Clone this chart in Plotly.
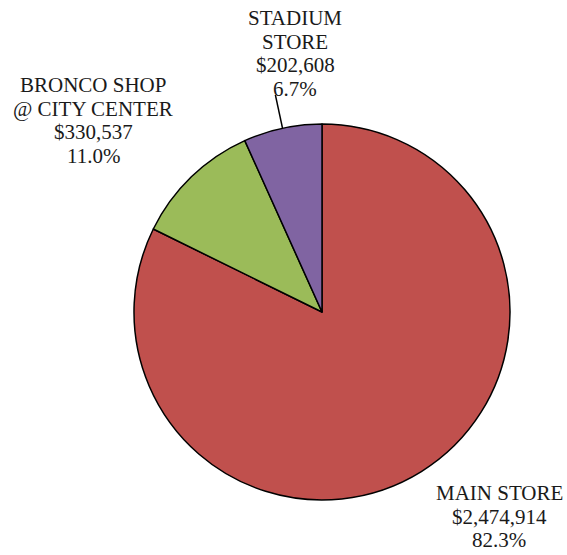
import math
import plotly.graph_objects as go

# Store sales breakdown
stores = ["MAIN STORE", "BRONCO SHOP<br>@ CITY CENTER", "STADIUM<br>STORE"]
sales = [2474914, 330537, 202608]
colors = ["#C0504D", "#9BBB59", "#8064A2"]

W, H = 567, 555
total = sum(sales)
shares = [v / total for v in sales]

# Pie placement (pixels)
cx, cy, r = 322, 312, 188
dom_x = [(cx - r) / W, (cx + r) / W]
dom_y = [1 - (cy + r) / H, 1 - (cy - r) / H]

fig = go.Figure(go.Pie(
    labels=stores,
    values=sales,
    sort=False,
    direction="clockwise",
    rotation=0,
    marker=dict(colors=colors, line=dict(color="black", width=1.5)),
    textinfo="none",
    hoverinfo="label+value+percent",
    domain=dict(x=dom_x, y=dom_y),
    showlegend=False,
))

# Label blocks: centre x and first-line baseline (pixels); one
# annotation per line keeps the line spacing tight
label_pos = [(499, 500), (93, 92), (295, 25)]
line_gap = 23.5
font = dict(family="Liberation Serif", size=21, color="#1a1a1a")
for name, val, share, (lx, base) in zip(stores, sales, shares, label_pos):
    lines = name.split("<br>") + [f"${val:,.0f}", f"{share * 100:.1f}%"]
    for i, txt in enumerate(lines):
        yc = base + i * line_gap - 7
        fig.add_annotation(
            x=lx / W, y=1 - yc / H, xref="paper", yref="paper",
            text=txt, showarrow=False, xanchor="center", yanchor="middle",
            align="center", font=font,
        )

# Leader line for the smallest slice, along its mid angle,
# drawn on hidden axes that map one unit to one pixel
start = shares[0] + shares[1]
mid = (start + shares[2] / 2) * 2 * math.pi  # clockwise from 12 o'clock
radii = [r, r + 34]
fig.add_trace(go.Scatter(
    x=[cx + rr * math.sin(mid) for rr in radii],
    y=[cy - rr * math.cos(mid) for rr in radii],
    mode="lines", line=dict(color="black", width=1.5),
    hoverinfo="skip", showlegend=False,
))

fig.update_layout(
    width=W, height=H,
    margin=dict(l=0, r=0, t=0, b=0),
    paper_bgcolor="white",
    plot_bgcolor="rgba(0,0,0,0)",
    xaxis=dict(range=[0, W], visible=False, domain=[0, 1], fixedrange=True),
    yaxis=dict(range=[H, 0], visible=False, domain=[0, 1], fixedrange=True),
)

fig.write_html("out.html")
